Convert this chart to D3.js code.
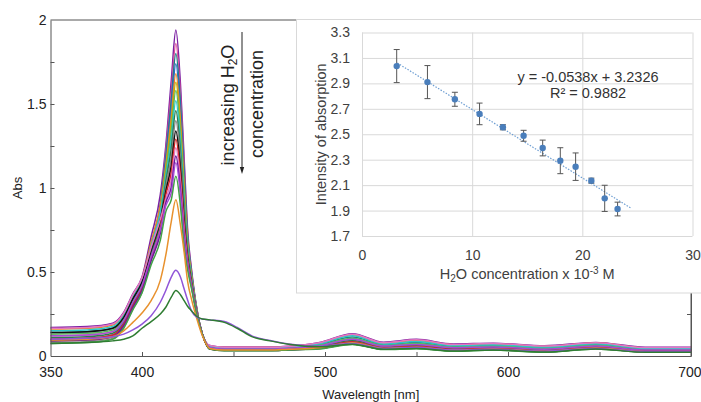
<!DOCTYPE html>
<html>
<head>
<meta charset="utf-8">
<script src="https://cdn.jsdelivr.net/npm/d3@7"></script>
<style>
  body { margin: 0; background: #fff; }
  svg { display: block; font-family: "Liberation Sans", Arial, sans-serif; }
</style>
</head>
<body>
<script>
// Data - UV-vis spectra (absorbance at these wavelengths)
const wavelengths = [350, 370, 384, 390, 395, 400, 405, 410, 413, 416, 418.5, 421, 423, 425, 427, 430, 433,
    437, 445, 452, 460, 470, 480, 497, 515, 532, 550, 570, 592, 620, 648, 675, 700];

const abs01 = [0.17,0.175,0.195,0.26,0.37,0.47, 0.71,0.96,1.25,1.64,1.94,1.62,1.18,0.74,0.52,0.28,0.13, 0.063, 0.053,0.053,0.053,0.053,0.058, 0.081,0.133,0.082,0.099,0.072,0.076,0.061,0.081,0.052,0.052];
const abs02 = [0.12,0.125,0.145,0.21,0.32,0.42, 0.654,0.894,1.214,1.573,1.86,1.553,1.132,0.719,0.509,0.277,0.13, 0.051, 0.041,0.041,0.041,0.041,0.046, 0.06,0.099,0.059,0.069,0.049,0.054,0.04,0.06,0.036,0.036];
const abs03 = [0.14,0.145,0.165,0.23,0.34,0.44, 0.668,0.902,1.187,1.522,1.80,1.503,1.095,0.703,0.501,0.274,0.13, 0.056, 0.046,0.046,0.046,0.046,0.051, 0.069,0.113,0.068,0.081,0.058,0.063,0.049,0.069,0.042,0.042];
const abs04 = [0.10,0.105,0.125,0.19,0.30,0.40, 0.623,0.849,1.16,1.471,1.74,1.453,1.058,0.687,0.493,0.271,0.13, 0.047, 0.037,0.037,0.037,0.037,0.042, 0.052,0.085,0.05,0.058,0.04,0.046,0.032,0.052,0.03,0.03];
const abs05 = [0.16,0.165,0.185,0.25,0.36,0.46, 0.678,0.897,1.133,1.42,1.68,1.403,1.022,0.67,0.485,0.269,0.13, 0.06, 0.05,0.05,0.05,0.05,0.055, 0.076,0.126,0.077,0.093,0.067,0.071,0.057,0.077,0.049,0.049];
const abs06 = [0.09,0.095,0.115,0.18,0.29,0.39, 0.604,0.817,1.11,1.378,1.63,1.361,0.991,0.657,0.478,0.267,0.13, 0.045, 0.035,0.035,0.035,0.035,0.04, 0.049,0.079,0.045,0.052,0.035,0.042,0.028,0.048,0.026,0.026];
const abs07 = [0.13,0.135,0.155,0.22,0.33,0.43, 0.64,0.847,1.088,1.335,1.58,1.319,0.961,0.644,0.472,0.264,0.13, 0.054, 0.044,0.044,0.044,0.044,0.049, 0.065,0.106,0.063,0.075,0.053,0.059,0.045,0.065,0.039,0.039];
const abs08 = [0.15,0.155,0.175,0.24,0.35,0.45, 0.655,0.855,1.061,1.286,1.52,1.27,0.925,0.628,0.464,0.262,0.13, 0.058, 0.048,0.048,0.048,0.048,0.053, 0.073,0.12,0.072,0.087,0.062,0.067,0.053,0.073,0.045,0.045];
const abs09 = [0.11,0.115,0.135,0.20,0.31,0.41, 0.61,0.802,1.034,1.235,1.46,1.22,0.889,0.612,0.456,0.259,0.13, 0.049, 0.039,0.039,0.039,0.039,0.044, 0.056,0.092,0.054,0.064,0.044,0.05,0.036,0.056,0.033,0.033];
const abs10 = [0.08,0.085,0.105,0.17,0.28,0.38, 0.575,0.76,1.006,1.184,1.40,1.17,0.852,0.596,0.448,0.257,0.13, 0.042, 0.032,0.032,0.032,0.032,0.037, 0.044,0.072,0.041,0.046,0.031,0.037,0.024,0.044,0.023,0.023];
const abs11 = [0.14,0.145,0.165,0.23,0.34,0.44, 0.63,0.808,0.98,1.133,1.34,1.119,0.815,0.58,0.439,0.254,0.13, 0.042, 0.032,0.032,0.032,0.032,0.037, 0.044,0.072,0.041,0.046,0.031,0.037,0.024,0.044,0.023,0.023];
const abs12 = [0.10,0.105,0.125,0.19,0.30,0.40, 0.586,0.758,0.957,1.091,1.29,1.077,0.785,0.567,0.433,0.252,0.13, 0.047, 0.037,0.037,0.037,0.037,0.042, 0.052,0.085,0.05,0.058,0.04,0.046,0.032,0.052,0.03,0.03];
const abs13 = [0.165,0.17,0.19,0.255,0.365,0.465, 0.647,0.813,0.934,1.048,1.24,1.035,0.754,0.553,0.426,0.25,0.13, 0.062, 0.052,0.052,0.052,0.052,0.057, 0.079,0.13,0.079,0.096,0.069,0.074,0.059,0.079,0.05,0.05];
const abs14 = [0.09,0.095,0.115,0.18,0.29,0.39, 0.567,0.728,0.911,1.005,1.19,0.993,0.723,0.539,0.42,0.248,0.13, 0.045, 0.035,0.035,0.035,0.035,0.04, 0.049,0.079,0.045,0.052,0.035,0.042,0.028,0.048,0.026,0.026];
const abs15 = [0.12,0.125,0.145,0.21,0.32,0.42, 0.594,0.749,0.894,0.973,1.15,0.961,0.70,0.529,0.414,0.246,0.13, 0.051, 0.041,0.041,0.041,0.041,0.046, 0.06,0.099,0.059,0.069,0.049,0.054,0.04,0.06,0.036,0.036];
const abs16 = [0.075,0.08,0.10,0.165,0.275,0.375, 0.543,0.688,0.858,0.93,1.07,0.894,0.651,0.508,0.404,0.242,0.13, 0.041, 0.031,0.031,0.031,0.031,0.036, 0.042,0.068,0.038,0.043,0.028,0.035,0.022,0.042,0.022,0.022];
const abs17 = [0.095,0.10,0.115,0.15,0.20,0.256, 0.33,0.45,0.60,0.80,0.93,0.78,0.62,0.44,0.34,0.22,0.12, 0.045, 0.035,0.035,0.035,0.035,0.04, 0.049,0.079,0.045,0.052,0.035,0.042,0.028,0.048,0.026,0.026];
const abs18 = [0.10,0.105,0.115,0.13,0.155,0.19, 0.24,0.32,0.39,0.47,0.51,0.47,0.40,0.33,0.27,0.23,0.22, 0.215, 0.205,0.17,0.12,0.092,0.072, 0.058,0.075,0.045,0.05,0.035,0.04,0.028,0.045,0.025,0.025];
const abs19 = [0.075,0.08,0.09,0.10,0.12,0.165, 0.205,0.25,0.29,0.35,0.39,0.365,0.33,0.295,0.27,0.235,0.22, 0.215, 0.20,0.165,0.115,0.09,0.07, 0.055,0.07,0.04,0.045,0.03,0.036,0.024,0.042,0.022,0.022];

const xTicks = [400, 450, 500, 550, 600, 650];
const xTickLabels = [350, 400, 500, 600, 700];
const yTicks = [0, 0.25, 0.5, 0.75, 1, 1.25, 1.5, 1.75, 2];
const yTickLabels = [0, 0.5, 1, 1.5, 2];

// Data - inset (calibration)
const h2oConc = [3.15, 5.94, 8.43, 10.67, 12.79, 14.67, 16.4, 18.0, 19.39, 20.82, 22.03, 23.2];
const intensity = [3.036, 2.91, 2.775, 2.66, 2.555, 2.488, 2.392, 2.292, 2.245, 2.135, 1.996, 1.912];
const intensityErr = [0.13, 0.13, 0.055, 0.085, 0.02, 0.043, 0.062, 0.102, 0.108, 0.02, 0.103, 0.054];
const trendRange = [3.2, 24.4];
const trendSlope = -0.0538;
const trendIntercept = 3.2326;
const insetXTicks = [0, 10, 20, 30];
const insetYTicks = [1.7, 1.9, 2.1, 2.3, 2.5, 2.7, 2.9, 3.1, 3.3];

const spectra = [abs01, abs02, abs03, abs04, abs05, abs06, abs07, abs08, abs09, abs10,
    abs11, abs12, abs13, abs14, abs15, abs16, abs17, abs18, abs19];
const lineColors = ['#7b1fa2', '#e0529c', '#1b7f86', '#2b6cc4', '#e8862a', '#c4b000', '#5cb85c',
    '#2ec7c9', '#2e7d4f', '#888888', '#111111', '#d62728', '#e377c2', '#6a1b9a', '#a64bd6',
    '#43a047', '#e8912d', '#9055d8', '#2f7d32'];

const W = 701, H = 402;
const svg = d3.select('body').append('svg')
    .attr('width', W)
    .attr('height', H);

// main plot scales
const x = d3.scaleLinear().domain([350, 700]).range([50.5, 691]);
const y = d3.scaleLinear().domain([0, 2]).range([356, 20]);

const line = d3.line()
    .x((d, i) => x(wavelengths[i]))
    .y(d => y(d))
    .curve(d3.curveMonotoneX);

svg.append('g')
    .selectAll('path')
    .data(spectra)
    .join('path')
    .attr('d', d => line(d))
    .attr('fill', 'none')
    .attr('stroke', (d, i) => lineColors[i])
    .attr('stroke-width', 1.5)
    .attr('stroke-linejoin', 'round');

// box
svg.append('line')
    .attr('x1', x(350)).attr('x2', x(700))
    .attr('y1', y(2)).attr('y2', y(2))
    .attr('stroke', '#555');
svg.append('line')
    .attr('x1', x(700)).attr('x2', x(700))
    .attr('y1', y(0)).attr('y2', y(2))
    .attr('stroke', '#555');

const xAxis = svg.append('g')
    .attr('transform', `translate(0, ${y(0)})`)
    .call(d3.axisBottom(x)
        .tickValues(xTicks.concat(xTickLabels.filter(v => !xTicks.includes(v))))
        .tickSize(-4)
        .tickSizeOuter(0)
        .tickPadding(11)
        .tickFormat(d => xTickLabels.includes(d) ? d : ''));

const yAxis = svg.append('g')
    .attr('transform', `translate(${x(350)}, 0)`)
    .call(d3.axisLeft(y)
        .tickValues(yTicks)
        .tickSize(-4)
        .tickSizeOuter(0)
        .tickPadding(4)
        .tickFormat(d => yTickLabels.includes(d) ? d : ''));

svg.append('g')
    .attr('transform', `translate(${x(700)}, 0)`)
    .call(d3.axisRight(y).tickValues(yTicks).tickSize(-4).tickSizeOuter(0).tickFormat(''));

svg.selectAll('.domain').attr('stroke', '#555');
svg.selectAll('.tick line').attr('stroke', '#555');
[xAxis, yAxis].forEach(a => a.selectAll('text')
    .attr('font-size', 14)
    .attr('font-family', '"Liberation Sans", Arial, sans-serif')
    .attr('fill', '#222'));
// edge labels sit at the plot corners
xAxis.selectAll('.tick').filter(d => d === 350 || d === 700).select('line').remove();
yAxis.selectAll('.tick').filter(d => d === 0 || d === 2).select('line').remove();
// keep the last label inside the window
xAxis.selectAll('.tick').filter(d => d === 700).select('text')
    .attr('text-anchor', 'end')
    .attr('dx', 10);

svg.append('text')
    .attr('transform', `translate(22, ${(y(0) + y(2)) / 2}) rotate(-90)`)
    .attr('text-anchor', 'middle')
    .attr('font-size', 13)
    .attr('fill', '#222')
    .text('Abs');

svg.append('text')
    .attr('x', (x(350) + x(700)) / 2)
    .attr('y', 399)
    .attr('text-anchor', 'middle')
    .attr('font-size', 13)
    .attr('fill', '#222')
    .text('Wavelength [nm]');

// annotation
const note1 = svg.append('text')
    .attr('transform', 'translate(233.5, 105) rotate(-90)')
    .attr('text-anchor', 'middle')
    .attr('font-size', 18)
    .attr('fill', '#222');
note1.append('tspan').text('increasing H');
note1.append('tspan').attr('font-size', 12).attr('dy', 3).text('2');
note1.append('tspan').attr('dy', -3).text('O');

svg.append('text')
    .attr('transform', 'translate(263, 104) rotate(-90)')
    .attr('text-anchor', 'middle')
    .attr('font-size', 18)
    .attr('fill', '#222')
    .text('concentration');

svg.append('line')
    .attr('x1', 242).attr('x2', 242)
    .attr('y1', 32).attr('y2', 168)
    .attr('stroke', '#222')
    .attr('stroke-width', 1);
svg.append('path')
    .attr('d', 'M239.8,167 L244.2,167 L242,174 Z')
    .attr('fill', '#222');

// inset
const inset = svg.append('g');
inset.append('rect')
    .attr('x', 296.5).attr('y', 19.5)
    .attr('width', 420).attr('height', 273.5)
    .attr('fill', '#fff')
    .attr('stroke', '#d9d9d9');

const ix = d3.scaleLinear().domain([0, 30]).range([362, 692.5]);
const iy = d3.scaleLinear().domain([1.7, 3.3]).range([236, 32.5]);

const ixAxis = inset.append('g')
    .attr('transform', `translate(0, ${iy(1.7)})`)
    .call(d3.axisBottom(ix)
        .tickValues(insetXTicks)
        .tickSize(-(iy(1.7) - iy(3.3)))
        .tickPadding(14)
        .tickFormat(d3.format('d')));
const iyAxis = inset.append('g')
    .attr('transform', `translate(${ix(0)}, 0)`)
    .call(d3.axisLeft(iy)
        .tickValues(insetYTicks)
        .tickSize(-(ix(30) - ix(0)))
        .tickPadding(12)
        .tickFormat(d3.format('.1f')));
[ixAxis, iyAxis].forEach(a => {
    a.select('.domain').remove();
    a.selectAll('.tick line').attr('stroke', '#d9d9d9');
    a.selectAll('text')
        .attr('font-size', 14)
        .attr('font-family', '"Liberation Sans", Arial, sans-serif')
        .attr('fill', '#404040');
});

// trendline
inset.append('line')
    .attr('x1', ix(trendRange[0]))
    .attr('y1', iy(trendSlope * trendRange[0] + trendIntercept))
    .attr('x2', ix(trendRange[1]))
    .attr('y2', iy(trendSlope * trendRange[1] + trendIntercept))
    .attr('stroke', '#6f9fd3')
    .attr('stroke-width', 1.2)
    .attr('stroke-dasharray', '1.5,1.5');

// error bars
const errG = inset.append('g')
    .attr('stroke', '#555')
    .attr('stroke-width', 1);
errG.selectAll('line.bar')
    .data(h2oConc)
    .join('line')
    .attr('class', 'bar')
    .attr('x1', d => ix(d)).attr('x2', d => ix(d))
    .attr('y1', (d, i) => iy(intensity[i] + intensityErr[i]))
    .attr('y2', (d, i) => iy(intensity[i] - intensityErr[i]));
errG.selectAll('line.capTop')
    .data(h2oConc)
    .join('line')
    .attr('class', 'capTop')
    .attr('x1', d => ix(d) - 3).attr('x2', d => ix(d) + 3)
    .attr('y1', (d, i) => iy(intensity[i] + intensityErr[i]))
    .attr('y2', (d, i) => iy(intensity[i] + intensityErr[i]));
errG.selectAll('line.capBot')
    .data(h2oConc)
    .join('line')
    .attr('class', 'capBot')
    .attr('x1', d => ix(d) - 3).attr('x2', d => ix(d) + 3)
    .attr('y1', (d, i) => iy(intensity[i] - intensityErr[i]))
    .attr('y2', (d, i) => iy(intensity[i] - intensityErr[i]));

inset.append('g')
    .selectAll('circle')
    .data(h2oConc)
    .join('circle')
    .attr('cx', d => ix(d))
    .attr('cy', (d, i) => iy(intensity[i]))
    .attr('r', 3.2)
    .attr('fill', '#4a7ebb');

inset.append('text')
    .attr('x', 588).attr('y', 82)
    .attr('text-anchor', 'middle')
    .attr('font-size', 14.5)
    .attr('fill', '#333')
    .text('y = -0.0538x + 3.2326');
inset.append('text')
    .attr('x', 588).attr('y', 97.5)
    .attr('text-anchor', 'middle')
    .attr('font-size', 14.5)
    .attr('fill', '#333')
    .text('R² = 0.9882');

inset.append('text')
    .attr('transform', `translate(326, ${(iy(1.7) + iy(3.3)) / 2}) rotate(-90)`)
    .attr('text-anchor', 'middle')
    .attr('font-size', 14.5)
    .attr('fill', '#404040')
    .text('Intensity of absorption');

const xt = inset.append('text')
    .attr('x', (ix(0) + ix(30)) / 2)
    .attr('y', 279)
    .attr('text-anchor', 'middle')
    .attr('font-size', 14.5)
    .attr('fill', '#404040');
xt.append('tspan').text('H');
xt.append('tspan').attr('font-size', 10).attr('dy', 3).text('2');
xt.append('tspan').attr('dy', -3).text('O concentration x 10');
xt.append('tspan').attr('font-size', 10).attr('dy', -5).text('-3');
xt.append('tspan').attr('dy', 5).text(' M');
</script>
</body>
</html>
